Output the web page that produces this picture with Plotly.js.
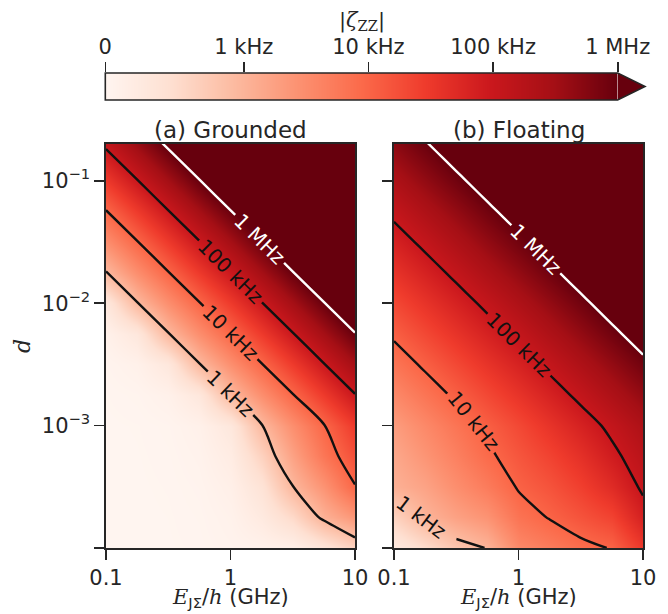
<!DOCTYPE html>
<html><head><meta charset="utf-8">
<script src="https://cdn.plot.ly/plotly-3.0.1.min.js"></script>
<style>
html,body{margin:0;padding:0;background:#fff;}
#wrap{position:relative;width:668px;height:614px;}
#main,#over{position:absolute;left:0;top:0;width:668px;height:614px;}
</style></head><body>
<div id="wrap"><div id="main"></div><div id="over"></div></div>
<script>
// ---------------- data ----------------
// grid: Josephson energy E_JΣ/h (GHz) and asymmetry d
const ejGHz = [0.1, 0.1778, 0.3162, 0.5623, 1, 1.778, 3.162, 5.623, 10];
const dVals = [1e-4, 1.778e-4, 3.162e-4, 5.623e-4, 1e-3, 1.778e-3, 3.162e-3, 5.623e-3,
               1e-2, 1.778e-2, 3.162e-2, 5.623e-2, 0.1, 0.1778, 0.3162];
// log10(|zeta_ZZ| / kHz); rows follow dVals (bottom -> top), columns follow ejGHz
const log10ZetaGroundedKHz = [
  [-3.3, -2.8, -2.3, -1.8, -1.3, -1.1, -0.9, -0.45, -0.2],
  [-3.1, -2.6, -2.1, -1.6, -1.1, -0.6, -0.26, 0.05, 0.38],
  [-2.9, -2.4, -1.9, -1.4, -0.9, -0.4, -0.01, 0.42, 0.98],
  [-2.7, -2.2, -1.7, -1.2, -0.7, -0.19, 0.24, 0.79, 1.24],
  [-2.52, -2.02, -1.52, -1.02, -0.52, -0.02, 0.48, 0.98, 1.48],
  [-2.02, -1.52, -1.02, -0.52, -0.02, 0.48, 0.98, 1.48, 1.98],
  [-1.52, -1.02, -0.52, -0.02, 0.48, 0.98, 1.48, 1.98, 2.48],
  [-1.02, -0.52, -0.02, 0.48, 0.98, 1.48, 1.98, 2.48, 2.98],
  [-0.52, -0.02, 0.48, 0.98, 1.48, 1.98, 2.48, 2.98, 3.48],
  [-0.02, 0.48, 0.98, 1.48, 1.98, 2.48, 2.98, 3.48, 3.98],
  [0.48, 0.98, 1.48, 1.98, 2.48, 2.98, 3.48, 3.98, 4.48],
  [0.98, 1.48, 1.98, 2.48, 2.98, 3.48, 3.98, 4.48, 4.98],
  [1.48, 1.98, 2.48, 2.98, 3.48, 3.98, 4.48, 4.98, 5.48],
  [1.98, 2.48, 2.98, 3.48, 3.98, 4.48, 4.98, 5.48, 5.98],
  [2.48, 2.98, 3.48, 3.98, 4.48, 4.98, 5.48, 5.98, 6.48]
];
const log10ZetaFloatingKHz = [
  [-0.6, -0.3, -0.1, 0.01, 0.55, 0.72, 0.9, 1.02, 1.5],
  [-0.2, 0.01, 0.24, 0.42, 0.83, 1.02, 1.2, 1.38, 1.85],
  [0.05, 0.22, 0.48, 0.72, 1.03, 1.2, 1.42, 1.69, 2.06],
  [0.16, 0.4, 0.66, 0.93, 1.17, 1.38, 1.62, 1.91, 2.2],
  [0.296, 0.551, 0.806, 1.061, 1.316, 1.571, 1.827, 2.088, 2.363],
  [0.551, 0.806, 1.061, 1.316, 1.571, 1.827, 2.088, 2.363, 2.637],
  [0.806, 1.061, 1.316, 1.571, 1.827, 2.088, 2.363, 2.637, 2.912],
  [1.061, 1.316, 1.571, 1.827, 2.088, 2.363, 2.637, 2.912, 3.187],
  [1.316, 1.571, 1.827, 2.088, 2.363, 2.637, 2.912, 3.187, 3.462],
  [1.571, 1.827, 2.088, 2.363, 2.637, 2.912, 3.187, 3.462, 3.736],
  [1.827, 2.088, 2.363, 2.637, 2.912, 3.187, 3.462, 3.736, 4.011],
  [2.088, 2.363, 2.637, 2.912, 3.187, 3.462, 3.736, 4.011, 4.286],
  [2.363, 2.637, 2.912, 3.187, 3.462, 3.736, 4.011, 4.286, 4.56],
  [2.637, 2.912, 3.187, 3.462, 3.736, 4.011, 4.286, 4.56, 4.835],
  [2.912, 3.187, 3.462, 3.736, 4.011, 4.286, 4.56, 4.835, 5.11]
];
const kHzContourLevels = [1, 10, 100];      // black contours, labelled "... kHz"
const mHzContourLevelsKHz = [1000];         // white contour, labelled "1 MHz"
const cbTickKHz = [0, 1, 10, 100, 1000];
const cbTickText = ['0', '1 kHz', '10 kHz', '100 kHz', '1 MHz'];
const xTickVals = [0.1, 1, 10];
const xTickText = ['0.1', '1', '10'];
const yTickVals = [1e-4, 1e-3, 1e-2, 1e-1];
const yTickText = ['', '10<sup>\u22123</sup>', '10<sup>\u22122</sup>', '10<sup>\u22121</sup>'];
const panelTitles = ['(a) Grounded', '(b) Floating'];

// ---------------- scales / styling ----------------
const W = 668, H = 614;
const px = x => x / W, py = y => 1 - y / H;
const LIN = 1 / (1 - 1 / 10);                  // SymLogNorm, linthresh = 1 kHz, linscale = 1
const symlog = k => (k <= 1 ? k * LIN : LIN + Math.log10(k));
const tMax = symlog(cbTickKHz[cbTickKHz.length - 1]);
const reds = [[0,'#fff5f0'],[0.125,'#fee0d2'],[0.25,'#fcbba1'],[0.375,'#fc9272'],[0.5,'#fb6a4a'],
              [0.625,'#ef3b2c'],[0.75,'#cb181d'],[0.875,'#a50f15'],[1,'#67000d']];
const INK = '#262626';
const LINE = '#111111';
const FONT = 'DejaVu Sans';
const SERIF = 'font-family:DejaVu Serif';

const toColor = L => L.map(r => r.map(v => symlog(Math.pow(10, v))));
const shifted = (L, levelKHz, shown) => L.map(r => r.map(v => v - Math.log10(levelKHz) + shown));

const panels = [
  {L: log10ZetaGroundedKHz, xa: 'x', ya: 'y', firstCol: {}},
  // the 1 kHz line of (b) runs into the corner: its label is placed by hand, the line starts past it
  {L: log10ZetaFloatingKHz, xa: 'x2', ya: 'y2', firstCol: {1: 2}}
];

function contourTrace(p, z, lv, color, c0, labels) {
  return {
    type: 'contour', x: ejGHz.slice(c0), y: dVals, z: z.map(r => r.slice(c0)),
    xaxis: p.xa, yaxis: p.ya,
    autocontour: false, showscale: false, hoverinfo: 'skip',
    contours: {start: lv, end: lv, size: 1, coloring: 'none', showlabels: labels,
               labelformat: '$', labelfont: {family: FONT, size: 20, color: color}},
    line: {color: color, width: 2.4, smoothing: 0.8}
  };
}

const mainData = [];
panels.forEach(p => {
  mainData.push({type: 'heatmap', x: ejGHz, y: dVals, z: toColor(p.L), xaxis: p.xa, yaxis: p.ya,
    colorscale: reds, zmin: 0, zmax: tMax, zsmooth: 'best', showscale: false, hoverinfo: 'skip'});
});
// colour bar gradient (end points of the colour scale)
mainData.push({type: 'heatmap', x: [0, tMax], y: [0, 1], z: [[0, tMax], [0, tMax]],
  xaxis: 'x3', yaxis: 'y3', colorscale: reds, zmin: 0, zmax: tMax, zsmooth: 'best',
  showscale: false, hoverinfo: 'skip'});
panels.forEach(p => {
  kHzContourLevels.forEach(lv => {
    const c0 = p.firstCol[lv] || 0;
    mainData.push(contourTrace(p, shifted(p.L, lv, lv), lv, LINE, c0, c0 === 0));
  });
});
const overData = [];
panels.forEach(p => {
  mHzContourLevelsKHz.forEach(lv => overData.push(contourTrace(p, shifted(p.L, lv, lv / 1000), lv / 1000, '#ffffff', 0, true)));
});

function panelAxes(visible) {
  const common = {showgrid: false, zeroline: false, showline: visible, mirror: visible, linecolor: INK,
    linewidth: 1.6, ticks: visible ? 'outside' : '', ticklen: 10, tickwidth: 1.6, tickcolor: INK,
    tickfont: {family: FONT, size: 21, color: INK}, visible: visible};
  const xr = {type: 'log', range: [-1, 1], tickmode: 'array', tickvals: xTickVals, ticktext: xTickText};
  const yr = {type: 'log', range: [-4, Math.log10(0.2)], tickmode: 'array', tickvals: yTickVals, ticktext: yTickText};
  return {
    xaxis: Object.assign({}, common, xr, {domain: [px(106), px(355)], anchor: 'y'}),
    yaxis: Object.assign({}, common, yr, {domain: [py(548), py(144)], anchor: 'x'}),
    xaxis2: Object.assign({}, common, xr, {domain: [px(394), px(643)], anchor: 'y2'}),
    yaxis2: Object.assign({}, common, yr, {domain: [py(548), py(144)], anchor: 'x2', showticklabels: false})
  };
}

const cbX0 = 105.3, cbX1 = 617.7, cbTip = 645, cbY0 = 73, cbY1 = 100;
const xLabel = `<span style="${SERIF}"><i>E</i></span><sub>J\u03a3</sub>/<span style="${SERIF}"><i>h</i></span> (GHz)`;
const mainLayout = Object.assign({
  width: W, height: H, margin: {l: 0, r: 0, t: 0, b: 0},
  paper_bgcolor: '#ffffff', plot_bgcolor: '#ffffff', showlegend: false,
  font: {family: FONT, color: INK},
  xaxis3: {domain: [px(cbX0), px(cbX1)], anchor: 'y3', side: 'top', range: [0, tMax],
    tickmode: 'array', tickvals: cbTickKHz.map(symlog), ticktext: cbTickText,
    ticks: 'outside', ticklen: 10, tickwidth: 1.6, tickcolor: INK, showline: false,
    showgrid: false, zeroline: false, tickfont: {family: FONT, size: 21, color: INK}},
  yaxis3: {domain: [py(cbY1), py(cbY0)], anchor: 'x3', range: [0, 1], visible: false},
  shapes: [
    {type: 'path', xref: 'paper', yref: 'paper',
     path: `M${px(cbX1)},${py(cbY0)} L${px(cbTip)},${py((cbY0 + cbY1) / 2)} L${px(cbX1)},${py(cbY1)} Z`,
     fillcolor: reds[reds.length - 1][1], line: {width: 0}},
    {type: 'path', xref: 'paper', yref: 'paper',
     path: `M${px(cbX0)},${py(cbY0)} L${px(cbX1)},${py(cbY0)} L${px(cbTip)},${py((cbY0 + cbY1) / 2)} L${px(cbX1)},${py(cbY1)} L${px(cbX0)},${py(cbY1)} Z`,
     fillcolor: 'rgba(0,0,0,0)', line: {color: INK, width: 1.6}}
  ],
  annotations: [
    {text: panelTitles[0], x: px(230.5), y: py(130), xref: 'paper', yref: 'paper', showarrow: false,
     xanchor: 'center', yanchor: 'middle', font: {family: FONT, size: 23, color: INK}},
    {text: panelTitles[1], x: px(518.5), y: py(130), xref: 'paper', yref: 'paper', showarrow: false,
     xanchor: 'center', yanchor: 'middle', font: {family: FONT, size: 23, color: INK}},
    {text: xLabel, x: px(230.5), y: py(598), xref: 'paper', yref: 'paper', showarrow: false,
     xanchor: 'center', yanchor: 'middle', font: {family: FONT, size: 21, color: INK}},
    {text: xLabel, x: px(518.5), y: py(598), xref: 'paper', yref: 'paper', showarrow: false,
     xanchor: 'center', yanchor: 'middle', font: {family: FONT, size: 21, color: INK}},
    {text: `<span style="${SERIF}"><i>d</i></span>`, x: px(22), y: py(346), xref: 'paper', yref: 'paper',
     showarrow: false, textangle: -90, xanchor: 'center', yanchor: 'middle', font: {family: FONT, size: 22, color: INK}},
    {text: `<span style="${SERIF}">|<i>\u03b6</i><sub>ZZ</sub>|</span>`, x: px(361.5), y: py(21),
     xref: 'paper', yref: 'paper', showarrow: false, xanchor: 'center', yanchor: 'middle',
     font: {family: FONT, size: 21, color: INK}},
    // contour label of the 1 kHz line in (b), which Plotly cannot fit in the corner
    {text: kHzContourLevels[0] + ' kHz', x: px(421), y: py(517), xref: 'paper', yref: 'paper', showarrow: false,
     textangle: 37, xanchor: 'center', yanchor: 'middle', font: {family: FONT, size: 20, color: LINE}}
  ]
}, panelAxes(true));

const overLayout = Object.assign({
  width: W, height: H, margin: {l: 0, r: 0, t: 0, b: 0},
  paper_bgcolor: 'rgba(0,0,0,0)', plot_bgcolor: 'rgba(0,0,0,0)', showlegend: false,
  font: {family: FONT, color: INK}
}, panelAxes(false));

Plotly.newPlot('main', mainData, mainLayout, {staticPlot: true, displayModeBar: false,
  locale: 'khz', locales: {khz: {dictionary: {}, format: {currency: ['', ' kHz']}}}});
Plotly.newPlot('over', overData, overLayout, {staticPlot: true, displayModeBar: false,
  locale: 'mhz', locales: {mhz: {dictionary: {}, format: {currency: ['', ' MHz']}}}});
</script>
</body></html>
